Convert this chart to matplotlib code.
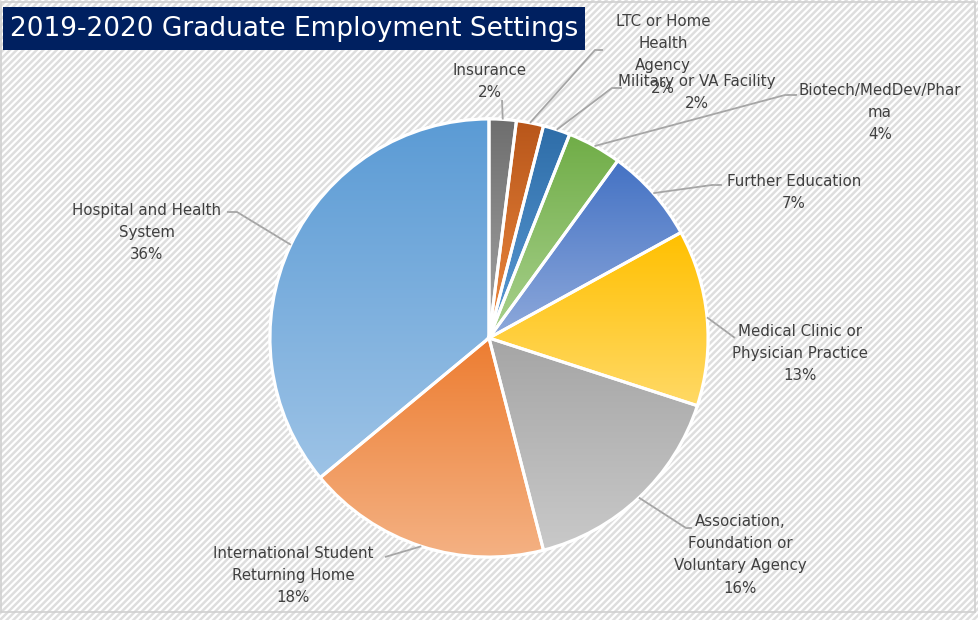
import numpy as np
import matplotlib
matplotlib.use("Agg")
import matplotlib.pyplot as plt
from matplotlib.patches import Rectangle, PathPatch
from matplotlib.colors import to_rgb

# ---- data ----
categories = [
    "Insurance",
    "LTC or Home\nHealth\nAgency",
    "Military or VA Facility",
    "Biotech/MedDev/Phar\nma",
    "Further Education",
    "Medical Clinic or\nPhysician Practice",
    "Association,\nFoundation or\nVoluntary Agency",
    "International Student\nReturning Home",
    "Hospital and Health\nSystem",
]
percents = [2, 2, 2, 4, 7, 13, 16, 18, 36]
title = "2019-2020 Graduate Employment Settings"

# ---- styles ----
top_colors = ["#6E6E6E", "#B8561A", "#2E6DA8", "#70AD47", "#4472C4",
              "#FFC000", "#A5A5A5", "#ED7D31", "#5B9BD5"]
bottom_colors = ["#A5A5A5", "#EE8A40", "#5B9BD5", "#A9D18E", "#8EA9DB",
                 "#FFD966", "#C9C9C9", "#F4B183", "#9DC3E6"]
# label text tops and leader elbow points, in pixel coords (y down)
label_pos = [(490, 63), (663, 14), (697, 74), (880, 83), (794, 174),
             (800, 324), (740, 514), (293, 546), (147, 203)]
elbows = [[(502, 100)],
          [(595, 50), (603, 50)],
          [(612, 88), (622, 88)],
          [(785, 95), (797, 95)],
          [(712, 185), (722, 185)],
          [(735, 338)],
          [(686, 528), (692, 528)],
          [(385, 557)],
          [(237, 212), (227, 212)]]

W, H = 979, 620
fig = plt.figure(figsize=(W / 100, H / 100), dpi=100)
fig.patch.set_facecolor("white")
ax = fig.add_axes([0, 0, 1, 1])

def Y(y):
    return H - y

cx, cy, r = 489, 338, 219
wedges, _ = ax.pie(percents, startangle=90, counterclock=False,
                   center=(cx, Y(cy)), radius=r, colors=top_colors,
                   wedgeprops=dict(edgecolor="white", linewidth=2.2), frame=True)
ax.set_xlim(0, W)
ax.set_ylim(0, H)
ax.set_aspect("equal")
ax.axis("off")

# hatched background
plt.rcParams["hatch.linewidth"] = 1.8
ax.add_patch(Rectangle((0, 0), W, H, facecolor="white", edgecolor="#DEDEDE",
                       hatch="/////", linewidth=0, zorder=0))
ax.add_patch(Rectangle((1, Y(612)), 974, 610, facecolor="none",
                       edgecolor="#D0D0D0", linewidth=1.2, zorder=1))

for i, w in enumerate(wedges):
    w.set_zorder(2)
    path = w.get_path()
    ext = path.get_extents()
    t = np.linspace(0, 1, 200)[:, None]
    c0 = np.array(to_rgb(top_colors[i]))
    c1 = np.array(to_rgb(bottom_colors[i]))
    grad = (c0[None, :] * (1 - t) + c1[None, :] * t)[:, None, :]
    im = ax.imshow(grad, extent=(ext.x0, ext.x1, ext.y0, ext.y1),
                   origin="upper", aspect="auto", zorder=3,
                   interpolation="bilinear")
    im.set_clip_path(w)
    ax.add_patch(PathPatch(path, facecolor="none", edgecolor="white",
                           linewidth=2.2, zorder=4))

ax.set_xlim(0, W)
ax.set_ylim(0, H)

# labels and leader lines
cum = np.cumsum([0] + percents)
for i, (lab, p) in enumerate(zip(categories, percents)):
    mid = 90 - (cum[i] + p / 2) / 100 * 360
    sx = cx + r * np.cos(np.radians(mid))
    sy = cy - r * np.sin(np.radians(mid))
    pts = [(sx, sy)] + elbows[i]
    ax.plot([q[0] for q in pts], [Y(q[1]) for q in pts], color="#A6A6A6",
            lw=1.3, zorder=5, solid_capstyle="butt")
    lx, ly = label_pos[i]
    ax.text(lx, Y(ly), lab + "\n" + f"{p}%", ha="center", va="top",
            fontsize=10.8, color="#404040", linespacing=1.6,
            family="DejaVu Sans", zorder=6)

# title box
ax.add_patch(Rectangle((3, Y(50)), 582, 43, facecolor="#002060",
                       edgecolor="none", zorder=7))
ax.text(294, Y(29), title, ha="center", va="center", color="white",
        fontsize=19, family="DejaVu Sans", zorder=8)

fig.savefig("out.png", dpi=100)
